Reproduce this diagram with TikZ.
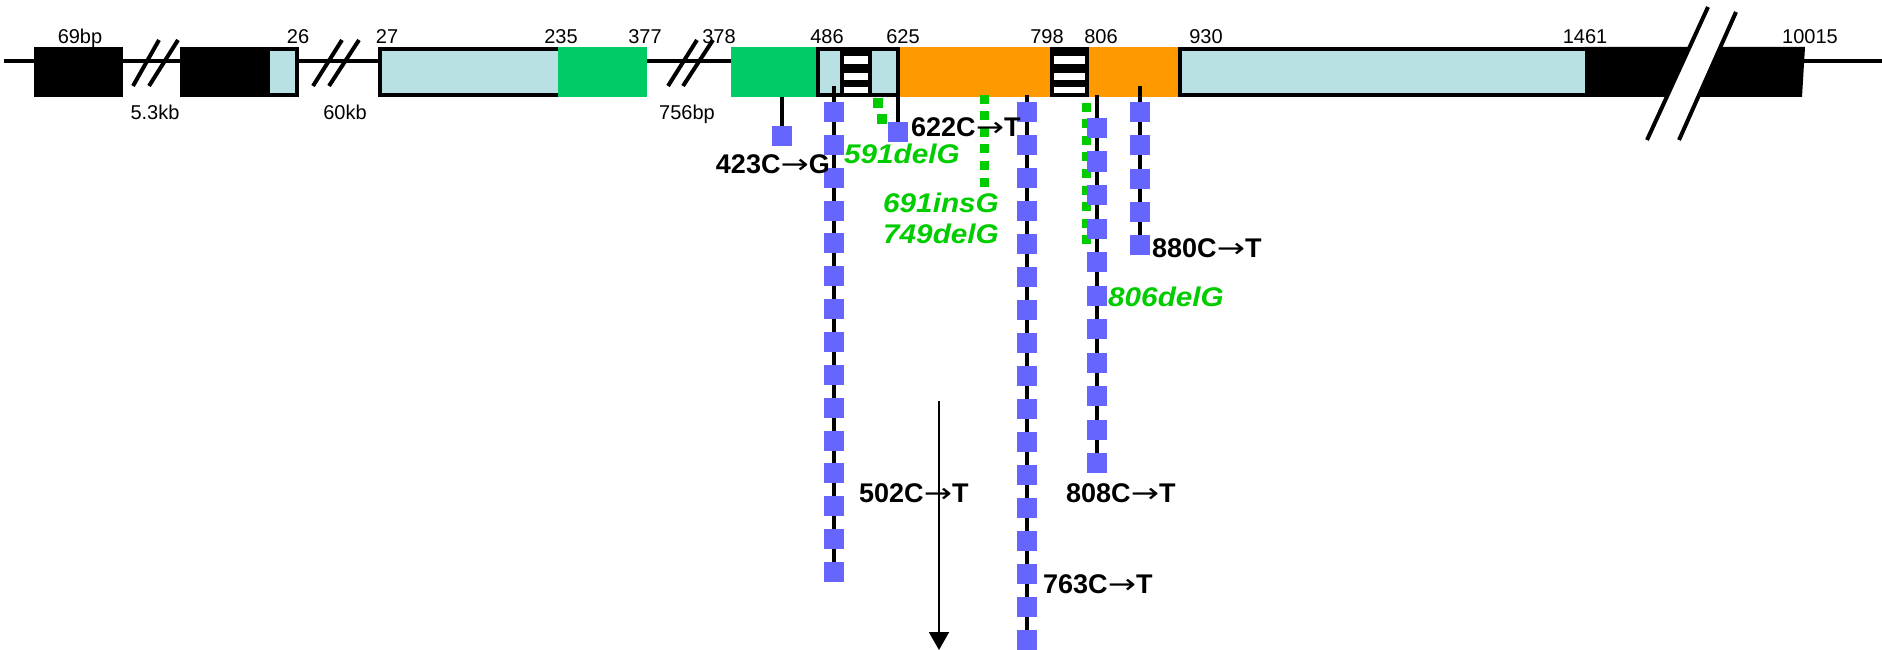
\documentclass[tikz,border=0pt]{standalone}
\usepackage{fontspec}
\setmainfont{Liberation Sans}
\newfontfamily\arrowfont{DejaVu Sans}
\usetikzlibrary{arrows.meta}
\definecolor{exlblue}{RGB}{185,224,227}
\definecolor{exgreen}{RGB}{0,204,102}
\definecolor{exorange}{RGB}{255,153,0}
\definecolor{mutblue}{RGB}{102,102,255}
\definecolor{mutgreen}{RGB}{0,204,0}
\newcommand{\mto}{\scalebox{1.25}[1]{\arrowfont\mdseries →}}
\newcommand{\wide}[1]{\scalebox{1.1}[1]{#1}}
\begin{document}
\begin{tikzpicture}[x=1pt,y=-1pt,
  backbone/.style={line width=4pt},
  brk/.style={line width=4pt},
  bordered/.style={draw=black,line width=4pt,fill=exlblue},
  poslab/.style={font=\fontsize{20}{22}\selectfont,inner sep=0pt,anchor=base},
  mutlab/.style={font=\fontsize{27}{30}\selectfont\bfseries,inner sep=0pt},
  dellab/.style={font=\fontsize{27}{30}\selectfont\bfseries\itshape,inner sep=0pt,text=mutgreen},
  stem/.style={line width=4pt},
  sq/.style={fill=mutblue},
  gdots/.style={draw=mutgreen,line width=9pt,dash pattern=on 9pt off 7.5pt},
  arr/.style={line width=2pt,-{Triangle[width=20pt,length=18pt]}},
]
\useasboundingbox (0,0) rectangle (1882,650);
% backbone
\draw[backbone] (4,61) -- (1882,61);
% exon 1
\fill[black] (34,47) rectangle (123,97);
% break 1
\draw[brk] (133,86) -- (159,40);
\draw[brk] (149,86) -- (178,40);
% exon 2
\fill[black] (180,47) rectangle (268,97);
\draw[bordered] (268,49) rectangle (297,95);
% break 2
\draw[brk] (313,86) -- (342,40);
\draw[brk] (329,86) -- (359,40);
% exon 3
\draw[bordered] (380,49) rectangle (560,95);
\fill[exgreen] (558,47) rectangle (647,97);
% break 3
\draw[brk] (668,86) -- (697,40);
\draw[brk] (683,86) -- (713,40);
% exon 4
\fill[exgreen] (731,47) rectangle (816,97);
\draw[bordered] (818,49) rectangle (898,95);
\fill[black] (840,47) rectangle (872,97);
\fill[white] (844,56) rectangle (868,64);
\fill[white] (844,73) rectangle (868,80.5);
\fill[white] (844,87) rectangle (868,93);
\fill[exorange] (900,47) rectangle (1178,97);
\fill[black] (1050,47) rectangle (1089,97);
\fill[white] (1053.5,56) rectangle (1085,64);
\fill[white] (1053.5,73) rectangle (1085,80.5);
\fill[white] (1053.5,87) rectangle (1085,93);
\draw[bordered] (1180,49) rectangle (1587,95);
\fill[black] (1585,47) -- (1805,47) -- (1802,97) -- (1585,97) -- cycle;
% break 4
\fill[white] (1708,7) -- (1736,12) -- (1679,140) -- (1647,140) -- cycle;
\draw[brk] (1708,7) -- (1647,140);
\draw[brk] (1736,12) -- (1679,140);

% position labels
\node[poslab] (l69) at (80,44) {69bp};
\node[poslab] (l53) at (155,120) {5.3kb};
\node[poslab] (l26) at (298,44) {26};
\node[poslab] (l60) at (345,120) {60kb};
\node[poslab] (l27) at (387,44) {27};
\node[poslab] (l235) at (561,44) {235};
\node[poslab] (l377) at (645,44) {377};
\node[poslab] (l378) at (719,44) {378};
\node[poslab] (l756) at (687,120) {756bp};
\node[poslab] (l486) at (827,44) {486};
\node[poslab] (l625) at (903,44) {625};
\node[poslab] (l798) at (1047,44) {798};
\node[poslab] (l806) at (1101,44) {806};
\node[poslab] (l930) at (1206,44) {930};
\node[poslab] (l1461) at (1585,44) {1461};
\node[poslab] (l10015) at (1810,44) {10015};

% green dotted (frameshift) marks
\fill[mutgreen] (873,98) rectangle (883,108);
\fill[mutgreen] (877,114) rectangle (887,124);
\draw[gdots] (984,95) -- (984,190);
\draw[gdots] (1086,103) -- (1086,247);

% lollipop columns
\draw[stem] (782,97) -- (782,130);
\fill[sq] (772,126) rectangle (792,146);
\draw[stem] (834,86) -- (834,572);
\foreach \k in {0,...,14} \fill[sq] (824,{102+32.86*\k}) rectangle (844,{122+32.86*\k});
\draw[stem] (898,97) -- (898,126);
\fill[sq] (888,122) rectangle (908,142);
\draw[stem] (1027,95) -- (1027,650);
\foreach \k in {0,...,16} \fill[sq] (1017,{102+33*\k}) rectangle (1037,{122+33*\k});
\draw[stem] (1097,95) -- (1097,463);
\foreach \k in {0,...,10} \fill[sq] (1087,{118+33.5*\k}) rectangle (1107,{138+33.5*\k});
\draw[stem] (1140,86) -- (1140,245);
\foreach \k in {0,...,4} \fill[sq] (1130,{102+33.25*\k}) rectangle (1150,{122+33.25*\k});

% mutation labels
\node[mutlab,anchor=base east] (m423) at (830,173) {423C\mto G};
\node[dellab,anchor=base west] (m591) at (844,164) {\wide{591delG}};
\node[mutlab,anchor=base west] (m622) at (911,136) {622C\mto T};
\node[dellab,anchor=base west] (m691) at (883,212) {\wide{691insG}};
\node[dellab,anchor=base west] (m749) at (883,243) {\wide{749delG}};
\node[dellab,anchor=base west] (m806) at (1108,306) {\wide{806delG}};
\node[mutlab,anchor=base west] (m880) at (1152,257) {880C\mto T};
\node[mutlab,anchor=base west] (m502) at (859,502) {502C\mto T};
\node[mutlab,anchor=base west] (m808) at (1066,502) {808C\mto T};
\node[mutlab,anchor=base west] (m763) at (1043,593) {763C\mto T};

% arrow
\coordinate (arS) at (939,401);
\coordinate (arE) at (939,650);
\draw[arr] (arS) -- (arE);
\end{tikzpicture}
\end{document}
